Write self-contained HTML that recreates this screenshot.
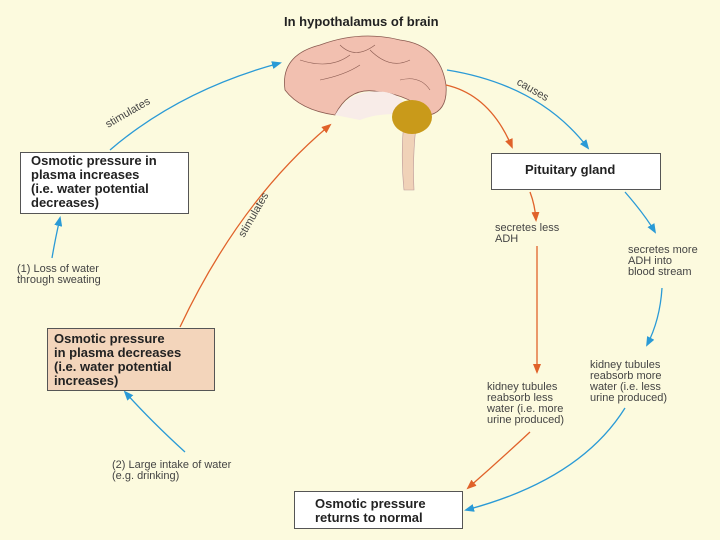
<!DOCTYPE html>
<html><head><style>
html,body{margin:0;padding:0;}
body{width:720px;height:540px;background:#fcfade;position:relative;overflow:hidden;font-family:"Liberation Sans",Arial,sans-serif;}
.t{position:absolute;font-size:11px;color:#444;line-height:11px;}
.box{position:absolute;border:1px solid #555;font-weight:bold;font-size:13px;line-height:14px;color:#222;box-sizing:border-box;}
</style></head><body>
<svg width="720" height="540" style="position:absolute;left:0;top:0">
<defs>
<marker id="b" markerWidth="10" markerHeight="8" refX="8" refY="4" orient="auto" markerUnits="userSpaceOnUse"><path d="M0,0 L10,4 L0,8z" fill="#2a9ad6"/></marker>
<marker id="o" markerWidth="10" markerHeight="8" refX="8" refY="4" orient="auto" markerUnits="userSpaceOnUse"><path d="M0,0 L10,4 L0,8z" fill="#e0622a"/></marker>
</defs>
<!-- brain -->
<path d="M405,112 Q400,150 404,190 L414,190 Q412,150 418,112z" fill="#f0d2b8" stroke="#b99" stroke-width="0.6"/>
<path d="M285,90 Q280,55 320,45 Q360,30 400,40 Q440,45 446,85 Q448,110 430,115 Q410,95 380,92 Q350,85 335,115 Q300,110 285,90z" fill="#f2c0b0" stroke="#8a5a50" stroke-width="0.8"/>
<path d="M300,60 Q330,70 350,55 M320,80 Q345,75 360,65 M370,50 Q390,70 410,60 M400,80 Q420,75 430,90 M340,45 Q355,60 375,45" fill="none" stroke="#8a5a50" stroke-width="0.6"/>
<path d="M335,115 Q350,88 385,92 Q405,95 410,115 Q380,112 360,120z" fill="#f8ece8"/>
<ellipse cx="412" cy="117" rx="20" ry="17" fill="#c99a1a"/>
<!-- blue arrows -->
<path d="M110,150 Q180,90 280,63" fill="none" stroke="#2a9ad6" stroke-width="1.3" marker-end="url(#b)"/>
<path d="M447,70 Q540,85 588,148" fill="none" stroke="#2a9ad6" stroke-width="1.3" marker-end="url(#b)"/>
<path d="M625,192 Q645,215 655,232" fill="none" stroke="#2a9ad6" stroke-width="1.3" marker-end="url(#b)"/>
<path d="M662,288 Q660,320 647,345" fill="none" stroke="#2a9ad6" stroke-width="1.3" marker-end="url(#b)"/>
<path d="M625,408 Q580,480 466,510" fill="none" stroke="#2a9ad6" stroke-width="1.3" marker-end="url(#b)"/>
<path d="M52,258 Q55,240 60,218" fill="none" stroke="#2a9ad6" stroke-width="1.3" marker-end="url(#b)"/>
<path d="M185,452 Q150,420 125,392" fill="none" stroke="#2a9ad6" stroke-width="1.3" marker-end="url(#b)"/>
<!-- orange -->
<path d="M180,327 Q240,200 330,125" fill="none" stroke="#e0622a" stroke-width="1.3" marker-end="url(#o)"/>
<path d="M446,85 Q490,95 512,147" fill="none" stroke="#e0622a" stroke-width="1.3" marker-end="url(#o)"/>
<path d="M530,192 Q535,205 536,220" fill="none" stroke="#e0622a" stroke-width="1.3" marker-end="url(#o)"/>
<line x1="537" y1="246" x2="537" y2="372" stroke="#e0622a" stroke-width="1.3" marker-end="url(#o)"/>
<path d="M530,432 Q500,460 468,488" fill="none" stroke="#e0622a" stroke-width="1.3" marker-end="url(#o)"/>
<text x="108" y="128" font-family="Liberation Sans" font-size="11" fill="#444" transform="rotate(-30 108 128)">stimulates</text>
<text x="516" y="84" font-family="Liberation Sans" font-size="11" fill="#444" transform="rotate(30 516 84)">causes</text>
<text x="244" y="238" font-family="Liberation Sans" font-size="11" fill="#444" transform="rotate(-60 244 238)">stimulates</text>
</svg>
<div style="position:absolute;left:284px;top:14px;font-weight:bold;font-size:13px;color:#222">In hypothalamus of brain</div>
<div class="box" style="left:20px;top:152px;width:169px;height:62px;background:#fff;padding:1px 0 0 10px">Osmotic pressure in<br>plasma increases<br>(i.e. water potential<br>decreases)</div>
<div class="box" style="left:47px;top:328px;width:168px;height:63px;background:#f3d5bb;padding:3px 0 0 6px">Osmotic pressure<br>in plasma decreases<br>(i.e. water potential<br>increases)</div>
<div class="box" style="left:491px;top:153px;width:170px;height:37px;background:#fff;padding:9px 0 0 33px">Pituitary gland</div>
<div class="box" style="left:294px;top:491px;width:169px;height:38px;background:#fff;padding:5px 0 0 20px">Osmotic pressure<br>returns to normal</div>
<div class="t" style="left:17px;top:264px">(1) Loss of water<br>through sweating</div>
<div class="t" style="left:112px;top:460px">(2) Large intake of water<br>(e.g. drinking)</div>
<div class="t" style="left:495px;top:223px">secretes less<br>ADH</div>
<div class="t" style="left:628px;top:245px">secretes more<br>ADH into<br>blood stream</div>
<div class="t" style="left:590px;top:360px">kidney tubules<br>reabsorb more<br>water (i.e. less<br>urine produced)</div>
<div class="t" style="left:487px;top:382px">kidney tubules<br>reabsorb less<br>water (i.e. more<br>urine produced)</div>
</body></html>
